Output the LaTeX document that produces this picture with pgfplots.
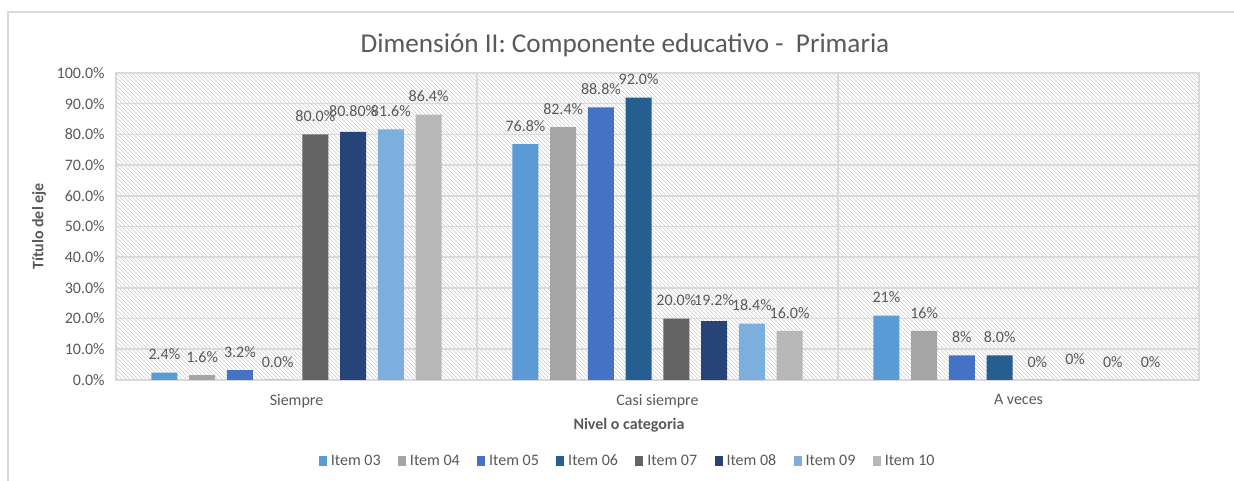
\documentclass[border=0pt]{standalone}
\usepackage{pgfplots}
\pgfplotsset{compat=1.18}
\usepackage{fontspec}
\setmainfont{Carlito}
\usetikzlibrary{patterns}
\definecolor{c03}{HTML}{5B9BD5}
\definecolor{c04}{HTML}{A5A5A5}
\definecolor{c05}{HTML}{4472C4}
\definecolor{c06}{HTML}{255E91}
\definecolor{c07}{HTML}{636363}
\definecolor{c08}{HTML}{264478}
\definecolor{c09}{HTML}{7CAFDD}
\definecolor{c10}{HTML}{B7B7B7}
\definecolor{gridc}{HTML}{D9D9D9}
\definecolor{txt}{HTML}{595959}

\begin{document}
\begin{tikzpicture}
% canvas = 1234x481 px at 0.75pt per px, origin at plot's lower left
\useasboundingbox (-87pt,-75.75pt) rectangle (838.5pt,285pt);
\draw[gridc, line width=1pt] (-81pt,-80pt) -- (-81pt,276pt) -- (845pt,276pt);
\begin{axis}[
  at={(0pt,0pt)}, anchor=south west,
  scale only axis, width=812.25pt, height=230.25pt,
  ybar=8.8pt, bar width=19.5pt,
  xmin=-0.5, xmax=2.5, ymin=0, ymax=100,
  xtick={0,1,2},
  xticklabels={Siempre, Casi siempre, A veces},
  minor xtick={0.5,1.5}, xminorgrids,
  ytick={0,10,...,100},
  yticklabel={\pgfmathprintnumber[fixed,fixed zerofill,precision=1]{\tick}\%},
  /pgf/number format/assume math mode=true,
  ymajorgrids,
  major tick length=0pt, minor tick length=0pt,
  grid style={gridc, line width=1.2pt},
  minor grid style={gridc, line width=1.2pt},
  axis line style={gridc, line width=1.2pt},
  axis background/.style={pattern=north west lines, pattern color=gray!40},
  tick label style={font=\fontsize{12}{14}\selectfont, text=txt},
  xticklabel style={yshift=-7pt},
  yticklabel style={xshift=-5pt},
  title={Dimensión II: Componente educativo -\ \ Primaria},
  title style={font=\fontsize{20.4}{24}\selectfont, text=txt,
    at={(axis description cs:0.47,1.091)}, anchor=center, yshift=-6.5pt},
  xlabel={Nivel o categoria},
  xlabel style={font=\bfseries\fontsize{12}{14}\selectfont, text=txt,
    at={(axis description cs:0.4737,-0.1466)}, anchor=center},
  ylabel={Título del eje},
  ylabel style={font=\bfseries\fontsize{12}{14}\selectfont, text=txt,
    at={(axis description cs:-0.0711,0.5)}, anchor=center},
  nodes near coords,
  point meta=explicit symbolic,
  every node near coord/.append style={font=\fontsize{12}{14}\selectfont, text=txt, yshift=6pt},
  legend columns=8,
  legend style={at={(axis description cs:0.4728,-0.2638)}, anchor=center,
    draw=none, font=\fontsize{12}{14}\selectfont, text=txt,
    /tikz/every odd column/.append style={column sep=1pt},
    /tikz/every even column/.append style={column sep=11pt}},
  legend image code/.code={\fill[#1] (0pt,-3.5pt) rectangle (6pt,3.5pt);},
]
\addplot[fill=c03, draw=none] coordinates {(0,2.4) [2.4\%] (1,76.8) [76.8\%] (2,21) [21\%]};
\addplot[fill=c04, draw=none] coordinates {(0,1.6) [1.6\%] (1,82.4) [82.4\%] (2,16) [16\%]};
\addplot[fill=c05, draw=none] coordinates {(0,3.2) [3.2\%] (1,88.8) [88.8\%] (2,8) [8\%]};
\addplot[fill=c06, draw=none] coordinates {(0,0.0) [0.0\%] (1,92.0) [92.0\%] (2,8.0) [8.0\%]};
\addplot[fill=c07, draw=none] coordinates {(0,80.0) [80.0\%] (1,20.0) [20.0\%] (2,0) [0\%]};
\addplot[fill=c08, draw=none, every node near coord/.append style={yshift=2pt}] coordinates {(0,80.8) [80.80\%] (1,19.2) [19.2\%] (2,0) [0\%]};
\addplot[fill=c09, draw=none] coordinates {(0,81.6) [81.6\%] (1,18.4) [18.4\%] (2,0) [0\%]};
\addplot[fill=c10, draw=none] coordinates {(0,86.4) [86.4\%] (1,16.0) [16.0\%] (2,0) [0\%]};
\legend{Item 03, Item 04, Item 05, Item 06, Item 07, Item 08, Item 09, Item 10}
\end{axis}
\end{tikzpicture}
\end{document}
